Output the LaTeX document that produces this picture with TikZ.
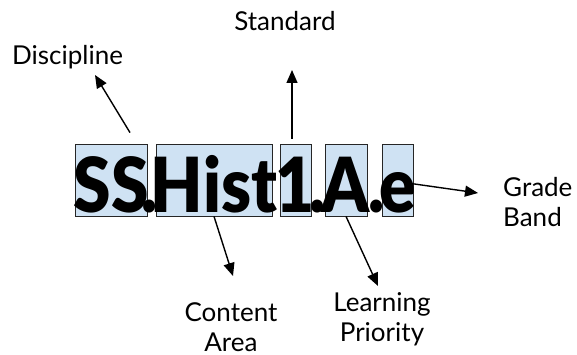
\documentclass[tikz,border=0pt]{standalone}
\usepackage{fontspec}
\setmainfont{Lato}
\IfFontExistsTF{Lato Black}{\newfontfamily\codefont{Lato Black}}{%
  \IfFontExistsTF{Lato Bold}{\newfontfamily\codefont{Lato Bold}}{\newfontfamily\codefont[FakeBold=3]{Lato}}}
\usepackage{graphicx}
\usepackage{tikz}
\usetikzlibrary{arrows.meta,positioning,calc}
\usepackage{xcolor}
\definecolor{segblue}{HTML}{CFE2F3}
\newcommand{\codepart}[1]{\scalebox{0.89}[1]{#1}}

\begin{document}
\begin{tikzpicture}[x=1pt,y=-1pt,
    seg/.style={draw=black!85, line width=0.8pt, fill=segblue, inner sep=0pt, minimum height=72pt},
    code/.style={font=\fontsize{76}{76}\codefont, inner sep=0pt, anchor=base},
    lbl/.style={font=\fontsize{26}{30}\selectfont, align=center, inner sep=0pt},
    arr/.style={line width=1.4pt, -{Triangle[length=13pt,width=11pt]}}]
                    \useasboundingbox (0,0) rectangle (577,355);
                    % segment boxes
                    \foreach \name/\cx/\w in {ss/111/72, hist/214/116, one/295.5/31, a/346/42, e/397.5/31} {
                        \node[seg, minimum width=\w pt] (\name) at (\cx,180) {};
                    }
                    % code text
                    \node[code] (tss) at (111,212) {\codepart{SS}};
                    \node[code] (thist) at (214,212) {\codepart{Hist}};
                    \node[code] (tone) at (295.5,212) {\codepart{1}};
                    \node[code] (ta) at (346,212) {\codepart{A}};
                    \node[code] (te) at (397.5,212) {\codepart{e}};
                    \foreach \d/\cx in {d1/150, d2/318, d3/376.5} {
                        \node[code] (\d) at (\cx,212) {\codepart{.}};
                    }
                    % labels
                    \node[lbl] (discipline) at (67.5,57) {Discipline};
                    \node[lbl] (standard) at (285,21) {Standard};
                    \node[lbl, align=left, anchor=west] (grade) at (503,202) {Grade\\Band};
                    \node[lbl] (content) at (231,327) {Content\\Area};
                    \node[lbl] (learning) at (382,319) {Learning\\Priority};
                    % arrows
                    \coordinate (dtip) at (95,75);
                    \coordinate (stip) at (292,70);
                    \coordinate (gtip) at (478,193);
                    \coordinate (ctip) at (233,276);
                    \coordinate (ltip) at (378,286);
                    \draw[arr] ([xshift=19pt,yshift=11pt]ss.north) -- (dtip);
                    \draw[arr] ([xshift=-3.5pt,yshift=5pt]one.north) -- (stip);
                    \draw[arr] ([xshift=-6pt,yshift=-3pt]e.east) -- (gtip);
                    \draw[arr] (hist.south) -- (ctip);
                    \draw[arr] (a.south) -- (ltip);
                \end{tikzpicture}
\end{document}
